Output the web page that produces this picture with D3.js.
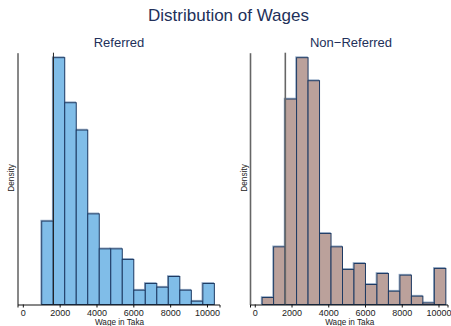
<!DOCTYPE html>
<html>
<head>
<meta charset="utf-8">
<script src="https://cdn.jsdelivr.net/npm/d3@7"></script>
<style>
  body { margin: 0; background: #fff; }
  svg { display: block; font-family: "Liberation Sans", Arial, sans-serif; }
</style>
</head>
<body>
<svg id="chart" width="451" height="326"></svg>
<script>
// Histogram bins shared by both groups (Taka)
const binStart = 400;
const binWidth = 625;

// Density per bin, in units of 1e-4
const referredDensity = [0, 1.242, 3.676, 3.005, 2.598, 1.350, 0.829, 0.829,
                         0.671, 0.213, 0.313, 0.258, 0.417, 0.213, 0.049, 0.313];
const nonReferredDensity = [0.104, 0.859, 3.060, 3.676, 3.333, 1.058, 0.859, 0.522,
                            0.611, 0.298, 0.462, 0.198, 0.437, 0.124, 0.024, 0.537];

const panelTitles = ["Referred", "Non\u2212Referred"];
const xTickValues = [0, 2000, 4000, 6000, 8000, 10000];
const minimumWage = 1662.5;
const densityMax = 3.75;

const svg = d3.select("#chart");

svg.append("text")
  .attr("x", 228.5).attr("y", 21)
  .attr("text-anchor", "middle")
  .attr("font-size", 17)
  .attr("fill", "#22305a")
  .text("Distribution of Wages");

const panels = [
  { title: panelTitles[0], data: referredDensity, fill: "#80bde8",
    xRange: [17.5, 219.5], xDomain: [-290, 10680], titleX: 119, yLabelX: 13.5,
    axisColor: "#111", axisWidth: 1, refColor: "#222" },
  { title: panelTitles[1], data: nonReferredDensity, fill: "#bba19b",
    xRange: [250, 447.5], xDomain: [-260, 10490], titleX: 351, yLabelX: 246.5,
    axisColor: "#666", axisWidth: 1.6, refColor: "#666" }
];

const yTop = 52.7, yBase = 304.5;
const y = d3.scaleLinear().domain([0, densityMax]).range([yBase, yTop]);

panels.forEach(p => {
  const x = d3.scaleLinear().domain(p.xDomain).range(p.xRange);
  const g = svg.append("g");

  const bins = p.data.map((d, i) => ({
    x0: binStart + i * binWidth,
    x1: binStart + (i + 1) * binWidth,
    d
  })).filter(b => b.d > 0);

  // soft outline just above/left of each bar
  g.selectAll("rect.halo").data(bins).join("rect")
    .attr("class", "halo")
    .attr("x", b => x(b.x0) - 0.8)
    .attr("y", b => y(b.d) - 0.8)
    .attr("width", b => x(b.x1) - x(b.x0))
    .attr("height", b => yBase - y(b.d))
    .attr("fill", "none")
    .attr("stroke", "#8fa6c2")
    .attr("stroke-width", 1);

  g.selectAll("rect.bar").data(bins).join("rect")
    .attr("class", "bar")
    .attr("x", b => x(b.x0))
    .attr("y", b => y(b.d))
    .attr("width", b => x(b.x1) - x(b.x0))
    .attr("height", b => yBase - y(b.d))
    .attr("fill", p.fill)
    .attr("stroke", "#1d3a63")
    .attr("stroke-width", 1);

  // minimum wage reference line
  g.append("line")
    .attr("x1", x(minimumWage)).attr("x2", x(minimumWage))
    .attr("y1", yTop).attr("y2", yBase)
    .attr("stroke", p.refColor)
    .attr("stroke-width", p.axisWidth);

  // y axis (no ticks)
  g.append("g")
    .attr("transform", `translate(${p.xRange[0]},0)`)
    .call(d3.axisLeft(y).tickValues([]).tickSizeOuter(0))
    .call(a => a.select(".domain").attr("stroke", p.axisColor).attr("stroke-width", p.axisWidth));

  // x axis
  const xa = g.append("g")
    .attr("transform", `translate(0,${yBase})`)
    .call(d3.axisBottom(x).tickValues(xTickValues).tickSizeOuter(0).tickSize(3).tickPadding(2)
      .tickFormat(d3.format("d")));
  xa.select(".domain").attr("stroke", "#111");
  xa.selectAll(".tick line").attr("stroke", "#111");
  xa.selectAll(".tick text")
    .attr("font-size", 9)
    .attr("fill", "#222")
    .attr("font-family", "Liberation Sans, Arial, sans-serif");

  svg.append("text")
    .attr("x", (p.xRange[0] + p.xRange[1]) / 2 + 1).attr("y", 325)
    .attr("text-anchor", "middle")
    .attr("font-size", 8.2)
    .attr("fill", "#222")
    .text("Wage in Taka");

  svg.append("text")
    .attr("transform", `translate(${p.yLabelX},178) rotate(-90)`)
    .attr("text-anchor", "middle")
    .attr("font-size", 8.3)
    .attr("fill", "#222")
    .text("Density");

  svg.append("text")
    .attr("x", p.titleX).attr("y", 47)
    .attr("text-anchor", "middle")
    .attr("font-size", 13)
    .attr("fill", "#22305a")
    .text(p.title);
});
</script>
</body>
</html>
